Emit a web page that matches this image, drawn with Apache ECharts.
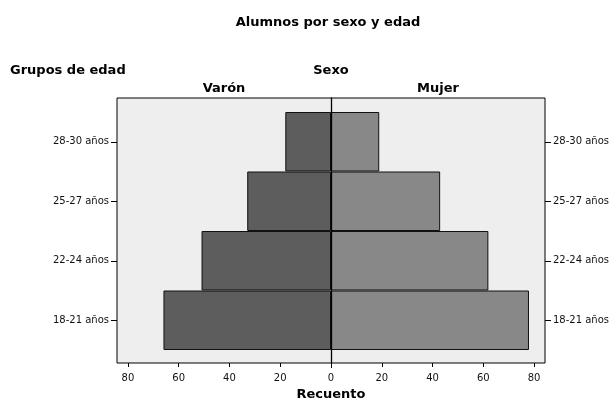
<!DOCTYPE html>
<html>
<head>
<meta charset="utf-8">
<script src="https://cdn.jsdelivr.net/npm/echarts@6/dist/echarts.min.js"></script>
<style>html,body{margin:0;padding:0;background:#fff;}#c{width:612px;height:402px;}</style>
</head>
<body>
<div id="c"></div>
<script>
// Data
var categories = ['18-21 años', '22-24 años', '25-27 años', '28-30 años'];
var varon = [66, 51, 33, 18];
var mujer = [78, 62, 43, 19];
var leftTicks = [0, 20, 40, 60, 80];
var rightTicks = [20, 40, 60, 80];
var axisMax = 84.3;

var FONT = '"DejaVu Sans", sans-serif';
var chart = echarts.init(document.getElementById('c'), null, {renderer: 'canvas'});

function catAxis(gridIndex, pos) {
  return {
    type: 'category', gridIndex: gridIndex, position: pos, data: categories, z: 4,
    axisLine: {show: false, onZero: false},
    axisTick: {show: true, alignWithLabel: true, inside: false, length: 6, lineStyle: {color: '#000', width: 1}},
    axisLabel: {color: '#111', fontSize: 10, fontFamily: FONT, margin: 8},
    splitLine: {show: false}
  };
}
function valAxis(gridIndex, inverse, tickVals, labelVals) {
  return {
    type: 'value', gridIndex: gridIndex, inverse: inverse, min: 0, max: axisMax,
    position: 'bottom', offset: 13, z: 4,
    axisLine: {show: false, onZero: false},
    axisTick: {show: true, length: 4, customValues: tickVals, lineStyle: {color: '#000', width: 1}},
    axisLabel: {color: '#111', fontSize: 10, fontFamily: FONT, margin: 10, customValues: labelVals},
    splitLine: {show: false}
  };
}

var option = {
  animation: false,
  backgroundColor: '#ffffff',
  grid: [
    {left: 117, top: 112, width: 214, height: 238},
    {left: 331, top: 112, width: 214, height: 238},
    {left: 117, top: 98, width: 428, height: 265, show: true, backgroundColor: '#eeeeee', borderColor: '#000', borderWidth: 1}
  ],
  xAxis: [
    valAxis(0, true, rightTicks, leftTicks),
    valAxis(1, false, rightTicks, rightTicks),
    {type: 'value', gridIndex: 2, min: -axisMax, max: axisMax,
     axisLine: {show: false, onZero: false}, splitLine: {show: false}, axisLabel: {show: false},
     axisTick: {show: true, length: 5, customValues: [0], lineStyle: {color: '#000', width: 1}}}
  ],
  yAxis: [
    catAxis(0, 'left'),
    catAxis(1, 'right'),
    {type: 'value', gridIndex: 2, min: 0, max: 1, z: 5,
     axisLine: {show: true, onZero: true, lineStyle: {color: '#000', width: 1.3}},
     axisTick: {show: false}, axisLabel: {show: false}, splitLine: {show: false}}
  ],
  series: [
    {name: 'Varón', type: 'bar', xAxisIndex: 0, yAxisIndex: 0, data: varon,
     barCategoryGap: '0%', itemStyle: {color: '#5d5d5d', borderColor: '#111', borderWidth: 1}},
    {name: 'Mujer', type: 'bar', xAxisIndex: 1, yAxisIndex: 1, data: mujer,
     barCategoryGap: '0%', itemStyle: {color: '#888888', borderColor: '#111', borderWidth: 1}}
  ],
  graphic: [
    {type: 'text', x: 328, y: 23, style: {text: 'Alumnos por sexo y edad', font: 'bold 13px ' + FONT, fill: '#000', align: 'center', verticalAlign: 'middle'}},
    {type: 'text', x: 10, y: 71, style: {text: 'Grupos de edad', font: 'bold 13px ' + FONT, fill: '#000', align: 'left', verticalAlign: 'middle'}},
    {type: 'text', x: 331, y: 71, style: {text: 'Sexo', font: 'bold 13px ' + FONT, fill: '#000', align: 'center', verticalAlign: 'middle'}},
    {type: 'text', x: 224, y: 89, style: {text: 'Varón', font: 'bold 13px ' + FONT, fill: '#000', align: 'center', verticalAlign: 'middle'}},
    {type: 'text', x: 438, y: 89, style: {text: 'Mujer', font: 'bold 13px ' + FONT, fill: '#000', align: 'center', verticalAlign: 'middle'}},
    {type: 'text', x: 331, y: 395, style: {text: 'Recuento', font: 'bold 13px ' + FONT, fill: '#000', align: 'center', verticalAlign: 'middle'}}
  ]
};
chart.setOption(option);
</script>
</body>
</html>
